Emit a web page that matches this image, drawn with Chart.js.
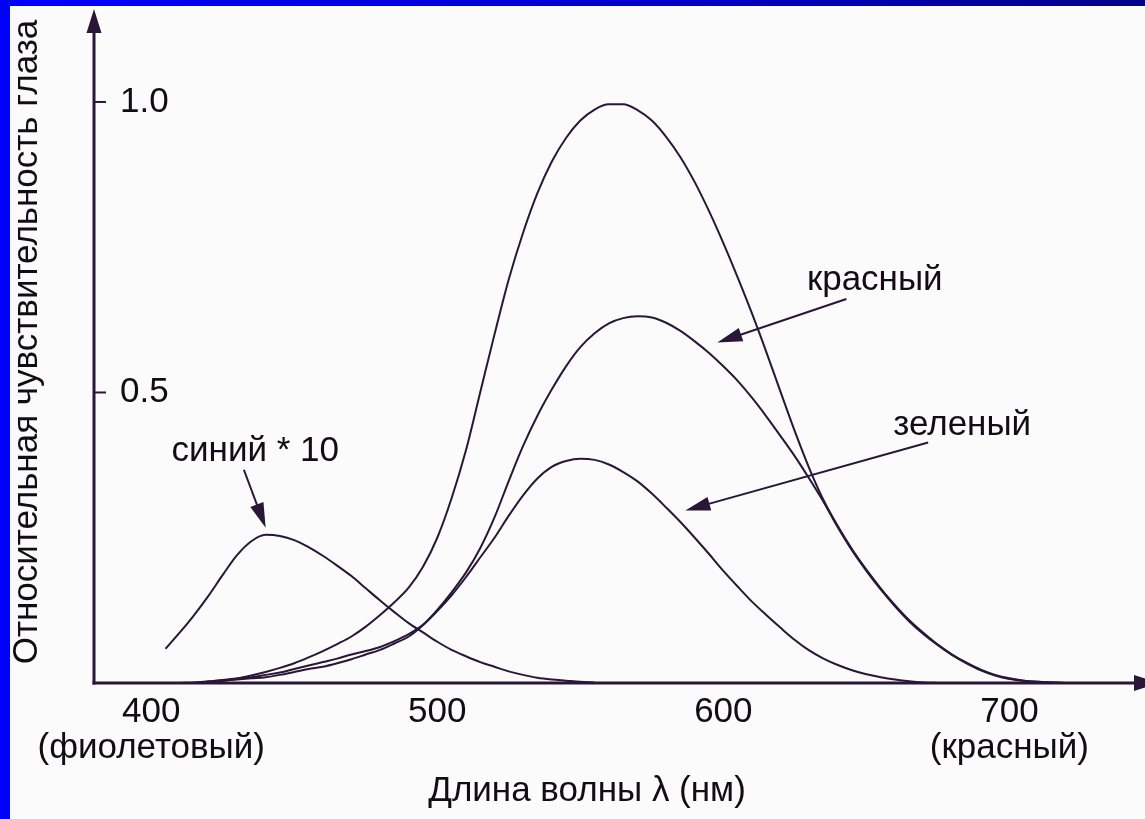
<!DOCTYPE html>
<html>
<head>
<meta charset="utf-8">
<title>Относительная чувствительность глаза</title>
<script src="https://cdn.jsdelivr.net/npm/chart.js@4.4.1/dist/chart.umd.min.js"></script>
<style>
  html, body { margin: 0; padding: 0; background: #fcfbfc; }
  canvas { display: block; }
</style>
</head>
<body>
<canvas id="chart" width="1145" height="819"></canvas>
<script>
// Wavelength grid, nm
const wavelengths = [
  400, 405, 410, 415, 420, 425, 430, 435, 440, 445,
  450, 455, 460, 465, 470, 475, 480, 485, 490, 495,
  500, 505, 510, 515, 520, 525, 530, 535, 540, 545,
  550, 555, 560, 565, 570, 575, 580, 585, 590, 595,
  600, 605, 610, 615, 620, 625, 630, 635, 640, 645,
  650, 655, 660, 665, 670, 675, 680, 685, 690, 695,
  700, 705, 710, 715, 720
];

// Overall relative sensitivity of the eye
const totalSensitivity = [
  null, null, 0.000, 0.001, 0.003, 0.005, 0.008, 0.013, 0.019, 0.026,
  0.034, 0.044, 0.055, 0.067, 0.080, 0.097, 0.117, 0.139, 0.164, 0.200,
  0.250, 0.318, 0.400, 0.500, 0.600, 0.695, 0.775, 0.843, 0.897, 0.938,
  0.968, 0.987, 0.996, 0.996, 0.986, 0.968, 0.940, 0.905, 0.862, 0.812,
  0.757, 0.698, 0.636, 0.570, 0.501, 0.433, 0.370, 0.315, 0.270, 0.230,
  0.195, 0.163, 0.134, 0.108, 0.086, 0.066, 0.049, 0.035, 0.023, 0.014,
  0.008, 0.004, 0.002, 0.001, 0.000
];

// Red-sensitive cones
const redCones = [
  null, null, null, 0.000, 0.002, 0.004, 0.006, 0.008, 0.010, 0.014,
  0.019, 0.024, 0.028, 0.034, 0.041, 0.049, 0.057, 0.068, 0.080, 0.100,
  0.126, 0.156, 0.190, 0.232, 0.285, 0.348, 0.408, 0.460, 0.505, 0.545,
  0.578, 0.602, 0.619, 0.628, 0.631, 0.629, 0.620, 0.606, 0.588, 0.568,
  0.545, 0.520, 0.491, 0.459, 0.425, 0.390, 0.352, 0.312, 0.268, 0.228,
  0.193, 0.161, 0.132, 0.106, 0.084, 0.065, 0.048, 0.034, 0.022, 0.013,
  0.007, 0.004, 0.002, 0.001, 0.000
];

// Green-sensitive cones
const greenCones = [
  null, null, null, 0.000, 0.002, 0.004, 0.007, 0.010, 0.014, 0.018,
  0.024, 0.030, 0.036, 0.042, 0.049, 0.055, 0.062, 0.072, 0.084, 0.100,
  0.124, 0.151, 0.182, 0.216, 0.250, 0.288, 0.323, 0.352, 0.372, 0.382,
  0.386, 0.384, 0.376, 0.363, 0.347, 0.326, 0.302, 0.277, 0.250, 0.222,
  0.193, 0.166, 0.140, 0.117, 0.095, 0.074, 0.056, 0.042, 0.031, 0.022,
  0.015, 0.010, 0.006, 0.003, 0.001, 0.000, null, null, null, null,
  null, null, null, null, null
];

// Blue-sensitive cones, scaled by 10
const blueConesX10 = [
  null, 0.059, 0.087, 0.117, 0.150, 0.186, 0.220, 0.244, 0.255, 0.253,
  0.246, 0.234, 0.219, 0.202, 0.184, 0.163, 0.142, 0.122, 0.103, 0.087,
  0.071, 0.057, 0.046, 0.036, 0.028, 0.020, 0.014, 0.009, 0.006, 0.004,
  0.002, 0.001, null, null, null, null, null, null, null, null,
  null, null, null, null, null, null, null, null, null, null,
  null, null, null, null, null, null, null, null, null, null,
  null, null, null, null, null
];

// Axis ticks
const xTickValues = [400, 500, 600, 700];
const xTickNotes = ['(фиолетовый)', '', '', '(красный)'];
const yTickValues = [0.5, 1.0];
const yTickLabels = ['0.5', '1.0'];

// Curve captions
const captionTexts = ['красный', 'зеленый', 'синий * 10'];

// ---- presentation ----
const INK = '#2a1636';
const TEXT = '#120c16';
const FONT = '35px "Liberation Sans", Arial, sans-serif';

// caption anchors and arrows, in data units (nm, sensitivity)
const captionLayout = [
  { text: [629.2, 0.676], from: [643.0, 0.661], to: [597.9, 0.586] },
  { text: [659.4, 0.427], from: [671.6, 0.414], to: [586.7, 0.297] },
  { text: [407.1, 0.382], from: [432.4, 0.367], to: [440.0, 0.267] }
];

function toPoints(values) {
  const pts = [];
  values.forEach((v, i) => { if (v !== null) pts.push({ x: wavelengths[i], y: v }); });
  return pts;
}

function curve(values) {
  return {
    data: toPoints(values),
    borderColor: INK,
    borderWidth: 2,
    pointRadius: 0,
    fill: false,
    cubicInterpolationMode: 'monotone'
  };
}

function arrow(ctx, x1, y1, x2, y2, len, half) {
  const a = Math.atan2(y2 - y1, x2 - x1);
  ctx.beginPath();
  ctx.moveTo(x1, y1);
  ctx.lineTo(x2 - Math.cos(a) * len * 0.6, y2 - Math.sin(a) * len * 0.6);
  ctx.stroke();
  ctx.beginPath();
  ctx.moveTo(x2, y2);
  ctx.lineTo(x2 - Math.cos(a) * len - Math.sin(a) * half, y2 - Math.sin(a) * len + Math.cos(a) * half);
  ctx.lineTo(x2 - Math.cos(a) * len + Math.sin(a) * half, y2 - Math.sin(a) * len - Math.cos(a) * half);
  ctx.closePath();
  ctx.fill();
}

const framePlugin = {
  id: 'frame',
  beforeDraw(chart) {
    const { ctx, width, height } = chart;
    ctx.save();
    ctx.fillStyle = '#fcfbfc';
    ctx.fillRect(0, 0, width, height);
    const g = ctx.createLinearGradient(0, 0, width, 0);
    g.addColorStop(0, '#0000ff');
    g.addColorStop(0.55, '#0000d0');
    g.addColorStop(1, '#000088');
    ctx.fillStyle = g;
    ctx.fillRect(0, 0, width, 6);
    ctx.fillStyle = '#0000ff';
    ctx.fillRect(0, 0, 10, height);
    ctx.restore();
  }
};

const axesPlugin = {
  id: 'arrowAxes',
  afterDatasetsDraw(chart) {
    const { ctx, chartArea } = chart;
    const xs = chart.scales.x, ys = chart.scales.y;
    const x0 = chartArea.left, y0 = ys.getPixelForValue(0);
    ctx.save();
    ctx.strokeStyle = INK;
    ctx.fillStyle = INK;
    ctx.lineWidth = 3;
    // vertical axis with arrow
    ctx.beginPath();
    ctx.moveTo(x0, y0 + 1.5);
    ctx.lineTo(x0, chartArea.top + 18);
    ctx.stroke();
    ctx.beginPath();
    ctx.moveTo(x0, chartArea.top);
    ctx.lineTo(x0 - 7.5, chartArea.top + 24);
    ctx.lineTo(x0 + 7.5, chartArea.top + 24);
    ctx.closePath();
    ctx.fill();
    // horizontal axis with arrow
    ctx.beginPath();
    ctx.moveTo(x0 - 1.5, y0);
    ctx.lineTo(chartArea.right - 4, y0);
    ctx.stroke();
    ctx.beginPath();
    ctx.moveTo(chartArea.right + 18, y0);
    ctx.lineTo(chartArea.right - 7, y0 - 8);
    ctx.lineTo(chartArea.right - 7, y0 + 8);
    ctx.closePath();
    ctx.fill();

    ctx.font = FONT;
    ctx.fillStyle = TEXT;
    // y ticks (inside the plot)
    ctx.lineWidth = 2;
    ctx.textAlign = 'left';
    ctx.textBaseline = 'middle';
    yTickValues.forEach((v, i) => {
      const py = ys.getPixelForValue(v);
      ctx.beginPath();
      ctx.moveTo(x0, py);
      ctx.lineTo(x0 + 12, py);
      ctx.stroke();
      ctx.fillText(yTickLabels[i], x0 + 26, py);
    });
    // x tick labels
    ctx.textAlign = 'center';
    ctx.textBaseline = 'alphabetic';
    xTickValues.forEach((v, i) => {
      const px = xs.getPixelForValue(v);
      ctx.fillText(String(v), px, y0 + 39);
      if (xTickNotes[i]) ctx.fillText(xTickNotes[i], px, y0 + 75);
    });
    // axis titles
    ctx.fillText('Длина волны λ (нм)', 587, y0 + 118);
    ctx.save();
    ctx.translate(37, 342);
    ctx.rotate(-Math.PI / 2);
    ctx.fillText('Относительная чувствительность глаза', 0, 0);
    ctx.restore();

    // captions with arrows
    ctx.textAlign = 'left';
    captionLayout.forEach((c, i) => {
      const x1 = xs.getPixelForValue(c.from[0]), y1 = ys.getPixelForValue(c.from[1]);
      const x2 = xs.getPixelForValue(c.to[0]), y2 = ys.getPixelForValue(c.to[1]);
      ctx.lineWidth = 2;
      ctx.strokeStyle = INK;
      ctx.fillStyle = INK;
      arrow(ctx, x1, y1, x2, y2, 25, 7);
      ctx.fillStyle = TEXT;
      ctx.fillText(captionTexts[i], xs.getPixelForValue(c.text[0]), ys.getPixelForValue(c.text[1]));
    });
    ctx.restore();
  }
};

new Chart(document.getElementById('chart'), {
  type: 'line',
  data: {
    datasets: [
      curve(totalSensitivity),
      curve(redCones),
      curve(greenCones),
      curve(blueConesX10)
    ]
  },
  options: {
    responsive: false,
    devicePixelRatio: 1,
    animation: false,
    events: [],
    layout: { padding: { left: 94, right: 4, top: 9, bottom: 136 } },
    scales: {
      x: { type: 'linear', min: 380, max: 746, display: false },
      y: { type: 'linear', min: 0, max: 1.16, display: false }
    },
    plugins: {
      legend: { display: false },
      tooltip: { enabled: false },
      title: { display: false }
    }
  },
  plugins: [framePlugin, axesPlugin]
});
</script>
</body>
</html>
